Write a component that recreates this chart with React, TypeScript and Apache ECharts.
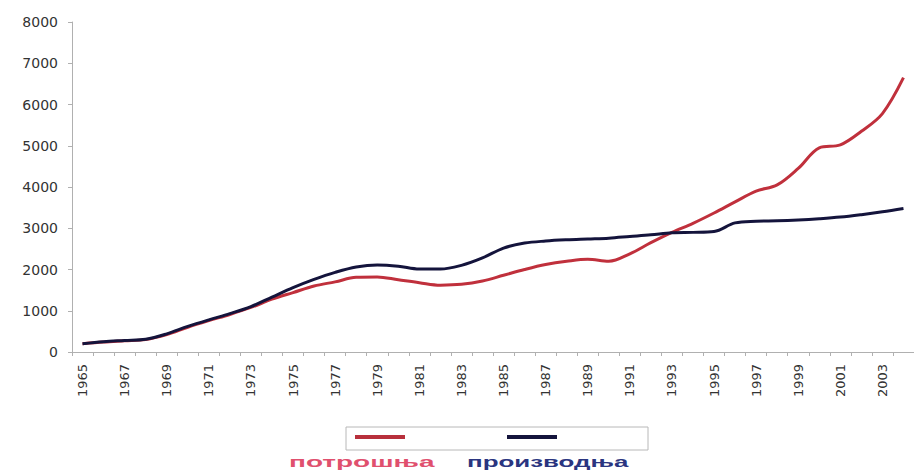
import React, { useEffect, useRef } from "react";
import * as echarts from "echarts";

const years = [
  "1965", "1966", "1967", "1968", "1969", "1970", "1971", "1972", "1973", "1974",
  "1975", "1976", "1977", "1978", "1979", "1980", "1981", "1982", "1983", "1984",
  "1985", "1986", "1987", "1988", "1989", "1990", "1991", "1992", "1993", "1994",
  "1995", "1996", "1997", "1998", "1999", "2000", "2001", "2002", "2003", "2004",
];

const consumption = [
  200, 240, 270, 300, 420, 600, 760, 910, 1080, 1280,
  1440, 1600, 1700, 1810, 1820, 1750, 1680, 1620, 1640, 1720,
  1860, 2000, 2120, 2200, 2250, 2200, 2380, 2650, 2900, 3120,
  3370, 3640, 3900, 4050, 4450, 4950, 5020, 5350, 5780, 6650,
];

const production = [
  200, 250, 280, 310, 440, 620, 780, 930, 1100, 1330,
  1560, 1760, 1930, 2060, 2110, 2080, 2010, 2010, 2100, 2280,
  2520, 2640, 2690, 2720, 2740, 2760, 2800, 2840, 2890, 2900,
  2920, 3130, 3170, 3180, 3200, 3230, 3270, 3330, 3400, 3480,
];

const seriesNames = ["потрошња", "производња"];
const yTicks = { min: 0, max: 8000, interval: 1000 };

export default function App() {
  const ref = useRef<HTMLDivElement>(null);
  useEffect(() => {
    if (!ref.current) return;
    const chart = echarts.init(ref.current, null, { renderer: "svg" });
    chart.setOption({
      animation: false,
      backgroundColor: "#ffffff",
      grid: { left: 72, right: -6, top: 22, bottom: 118 },
      xAxis: {
        type: "category",
        data: years,
        boundaryGap: true,
        axisLine: { lineStyle: { color: "#b0b0b0", width: 1 } },
        axisTick: { show: true, interval: 0, length: 4, lineStyle: { color: "#b0b0b0" } },
        axisLabel: {
          interval: 1,
          rotate: 90,
          margin: 12,
          color: "#333",
          fontSize: 13,
          fontFamily: "DejaVu Sans",
        },
        splitLine: { show: false },
      },
      yAxis: {
        type: "value",
        min: yTicks.min,
        max: yTicks.max,
        interval: yTicks.interval,
        axisLine: { show: true, lineStyle: { color: "#b0b0b0", width: 1 } },
        axisTick: { show: true, length: 4, lineStyle: { color: "#b0b0b0" } },
        axisLabel: {
          margin: 14,
          color: "#333",
          fontSize: 14,
          fontFamily: "DejaVu Sans",
          formatter: (v: number) => String(v),
        },
        splitLine: { show: false },
      },
      series: [
        {
          name: seriesNames[0],
          type: "line",
          data: consumption,
          smooth: 0.35,
          symbol: "none",
          lineStyle: { color: "#c0303c", width: 3 },
          z: 2,
        },
        {
          name: seriesNames[1],
          type: "line",
          data: production,
          smooth: 0.35,
          symbol: "none",
          lineStyle: { color: "#14143c", width: 3 },
          z: 3,
        },
      ],
      graphic: [
        {
          type: "rect",
          shape: { x: 346, y: 427, width: 302, height: 23 },
          style: { fill: "#ffffff", stroke: "#b8b8b8", lineWidth: 1 },
        },
        {
          type: "line",
          shape: { x1: 355, y1: 437, x2: 405, y2: 437 },
          style: { stroke: "#b8303c", lineWidth: 4 },
        },
        {
          type: "line",
          shape: { x1: 507, y1: 437, x2: 557, y2: 437 },
          style: { stroke: "#14143c", lineWidth: 4 },
        },
        {
          type: "text",
          x: 289,
          y: 455,
          scaleX: 2.0,
          style: {
            text: seriesNames[0],
            fill: "#e0506e",
            font: "bold 14px 'Liberation Sans'",
            align: "left",
            verticalAlign: "top",
          },
        },
        {
          type: "text",
          x: 467,
          y: 455,
          scaleX: 1.85,
          style: {
            text: seriesNames[1],
            fill: "#2a3580",
            font: "bold 14px 'Liberation Sans'",
            align: "left",
            verticalAlign: "top",
          },
        },
      ],
    });
    return () => chart.dispose();
  }, []);
  return (
    <div
      ref={ref}
      style={{ position: "fixed", left: 0, top: 0, width: 914, height: 470 }}
    />
  );
}
